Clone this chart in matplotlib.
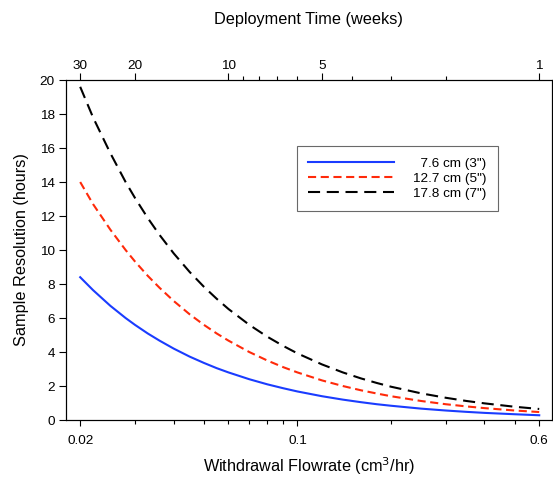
import matplotlib
matplotlib.use("Agg")
import matplotlib.pyplot as plt
from matplotlib.ticker import FixedLocator, NullFormatter

plt.rcParams['font.family'] = ['Liberation Sans', 'DejaVu Sans']

flowrate = [0.02, 0.022, 0.025, 0.028, 0.03, 0.033, 0.036, 0.04, 0.045, 0.05, 0.055, 0.06,
            0.07, 0.08, 0.09, 0.1, 0.12, 0.14, 0.16, 0.18, 0.2, 0.25, 0.3, 0.35, 0.4, 0.5, 0.6]
res_3in = [8.40, 7.64, 6.72, 6.00, 5.60, 5.09, 4.67, 4.20, 3.73, 3.36, 3.05, 2.80,
           2.40, 2.10, 1.87, 1.68, 1.40, 1.20, 1.05, 0.93, 0.84, 0.67, 0.56, 0.48, 0.42, 0.34, 0.28]
res_5in = [14.0, 12.7, 11.2, 10.0, 9.33, 8.48, 7.78, 7.00, 6.22, 5.60, 5.09, 4.67,
           4.00, 3.50, 3.11, 2.80, 2.33, 2.00, 1.75, 1.56, 1.40, 1.12, 0.93, 0.80, 0.70, 0.56, 0.47]
res_7in = [19.6, 17.8, 15.7, 14.0, 13.07, 11.88, 10.89, 9.80, 8.71, 7.84, 7.13, 6.53,
           5.60, 4.90, 4.36, 3.92, 3.27, 2.80, 2.45, 2.18, 1.96, 1.57, 1.31, 1.12, 0.98, 0.78, 0.65]
labels = ['  7.6 cm (3")', '12.7 cm (5")', '17.8 cm (7")']

bottom_ticks = [0.02, 0.1, 0.6]
bottom_tick_labels = ['0.02', '0.1', '0.6']
bottom_minor = [0.03, 0.04, 0.05, 0.06, 0.07, 0.08, 0.09, 0.2, 0.3, 0.4, 0.5]
top_weeks_major = [30, 20, 10, 5, 1]
top_weeks_minor = [9, 8, 7, 6, 4, 3, 2]
weeks_times_flowrate = 0.6

fig = plt.figure(figsize=(5.53, 4.78), dpi=100)
ax = fig.add_axes([0.1193, 0.1213, 0.8783, 0.7113])

l1, = ax.plot(flowrate, res_3in, color='#1a3cff', lw=1.5)
l2, = ax.plot(flowrate, res_5in, color='#ff2a0a', lw=1.5, dashes=(3.9, 2.2))
l3, = ax.plot(flowrate, res_7in, color='black', lw=1.5, dashes=(5.8, 3.2))

ax.set_xscale('log')
ax.set_xlim(0.0180, 0.658)
ax.set_ylim(0, 20)
ax.set_yticks(range(0, 21, 2))
ax.xaxis.set_major_locator(FixedLocator(bottom_ticks))
ax.set_xticklabels(bottom_tick_labels)
ax.xaxis.set_minor_locator(FixedLocator(bottom_minor))
ax.xaxis.set_minor_formatter(NullFormatter())
ax.tick_params(axis='both', which='major', length=5, width=0.8, labelsize=9.7, direction='out')
ax.tick_params(axis='x', which='major', length=4, pad=7)
ax.tick_params(axis='y', which='major', pad=3)
ax.tick_params(axis='x', which='minor', length=3, width=0.8, direction='out')
ax.tick_params(axis='y', which='minor', length=0)

ax.set_xlabel('Withdrawal Flowrate (cm$^3$/hr)', fontsize=11.7, labelpad=6)
ax.set_ylabel('Sample Resolution (hours)', fontsize=11.7, labelpad=8)

ax2 = ax.twiny()
ax2.set_xscale('log')
ax2.set_xlim(ax.get_xlim())
ax2.xaxis.set_major_locator(FixedLocator([weeks_times_flowrate / w for w in top_weeks_major]))
ax2.set_xticklabels([str(w) for w in top_weeks_major])
ax2.xaxis.set_minor_locator(FixedLocator([weeks_times_flowrate / w for w in top_weeks_minor]))
ax2.xaxis.set_minor_formatter(NullFormatter())
ax2.tick_params(axis='x', which='major', length=5, width=0.8, labelsize=9.7, direction='out', pad=0.8)
ax2.tick_params(axis='x', which='minor', length=3, width=0.8, direction='out')
ax2.set_xlabel('Deployment Time (weeks)', fontsize=11.7, labelpad=26)

for a in (ax, ax2):
    for s in a.spines.values():
        s.set_linewidth(0.8)

leg = ax.legend([l1, l2, l3], labels, loc='upper left',
                bbox_to_anchor=((297 - 66) / 485.7, (420 - 146) / 340.0),
                fontsize=9.7, frameon=True, fancybox=False, edgecolor='#444444',
                handlelength=6.33, handletextpad=1.4, borderpad=0.85, labelspacing=0.18,
                borderaxespad=0)
leg.get_frame().set_linewidth(0.8)

fig.savefig('out.png', dpi=100)
